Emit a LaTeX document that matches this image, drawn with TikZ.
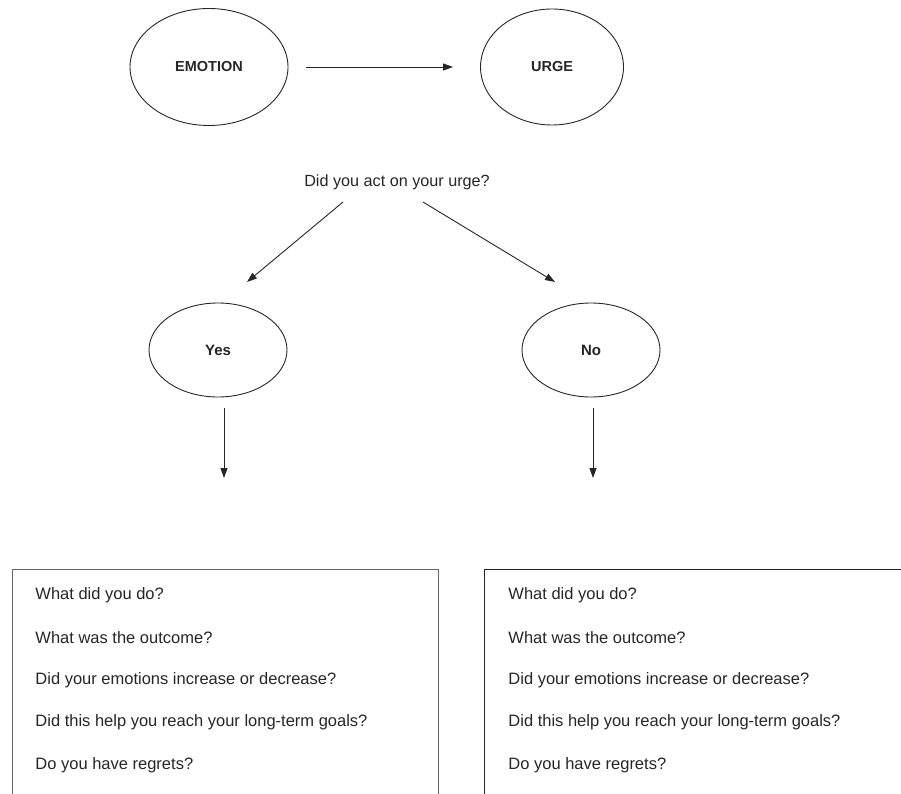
\documentclass[tikz,border=0pt]{standalone}
\usepackage{fontspec}
\setmainfont{Liberation Sans}
\usetikzlibrary{shapes.geometric,arrows.meta}

\begin{document}
\begin{tikzpicture}[x=1pt, y=-1pt, line width=0.9pt, color=black!85,
		>={Triangle[length=10pt,width=7pt]},
		bubble/.style={ellipse, draw, inner sep=0pt, font=\bfseries\fontsize{14.5}{17}\selectfont},
		qline/.style={anchor=west, inner sep=0pt, font=\fontsize{16.5}{19}\selectfont}]
		\useasboundingbox (0,0) rectangle (901,794);
		\clip (0,0) rectangle (901,794);
		
		% Emotion and urge
		\node[bubble, minimum width=158pt, minimum height=117pt] (emotion) at (209,67) {EMOTION};
		\node[bubble, minimum width=143pt, minimum height=116pt] (urge) at (552,67) {URGE};
		\draw[->] ([xshift=18pt]emotion.east) -- ([xshift=-27pt]urge.west);
		
		% Question
		\node[font=\fontsize{16.2}{19}\selectfont] (question) at (397,182) {Did you act on your urge?};
		
		% Answers
		\node[bubble, minimum width=138pt, minimum height=94pt, font=\bfseries\fontsize{15}{18}\selectfont] (yes) at (218,350) {Yes};
		\node[bubble, minimum width=138pt, minimum height=94pt, font=\bfseries\fontsize{15}{18}\selectfont] (no) at (591,350) {No};
		\draw[->] ([shift={(-54,20)}]question.center) -- ([shift={(29,-68)}]yes.center);
		\draw[->] ([shift={(26,20)}]question.center) -- ([shift={(-36,-68)}]no.center);
		
		% Down arrows
		\draw[->] ([shift={(6,58)}]yes.center) -- ([shift={(6,128)}]yes.center);
		\draw[->] ([shift={(2,58)}]no.center) -- ([shift={(2,128)}]no.center);
		
		% Boxes
		\draw[black!60] (12,830) |- (438,569) -- (438,830);
		\draw (484,830) |- (930,569);
		
		% Questions in the boxes
		\foreach \q [count=\i] in {What did you do?, What was the outcome?, Did your emotions increase or decrease?, Did this help you reach your long-term goals?, Do you have regrets?} {
			\node[qline] (lq\i) at (35,{595+42.5*(\i-1)}) {\q};
			\node[qline] (rq\i) at (508,{595+42.5*(\i-1)}) {\q};
		}
	\end{tikzpicture}
\end{document}
